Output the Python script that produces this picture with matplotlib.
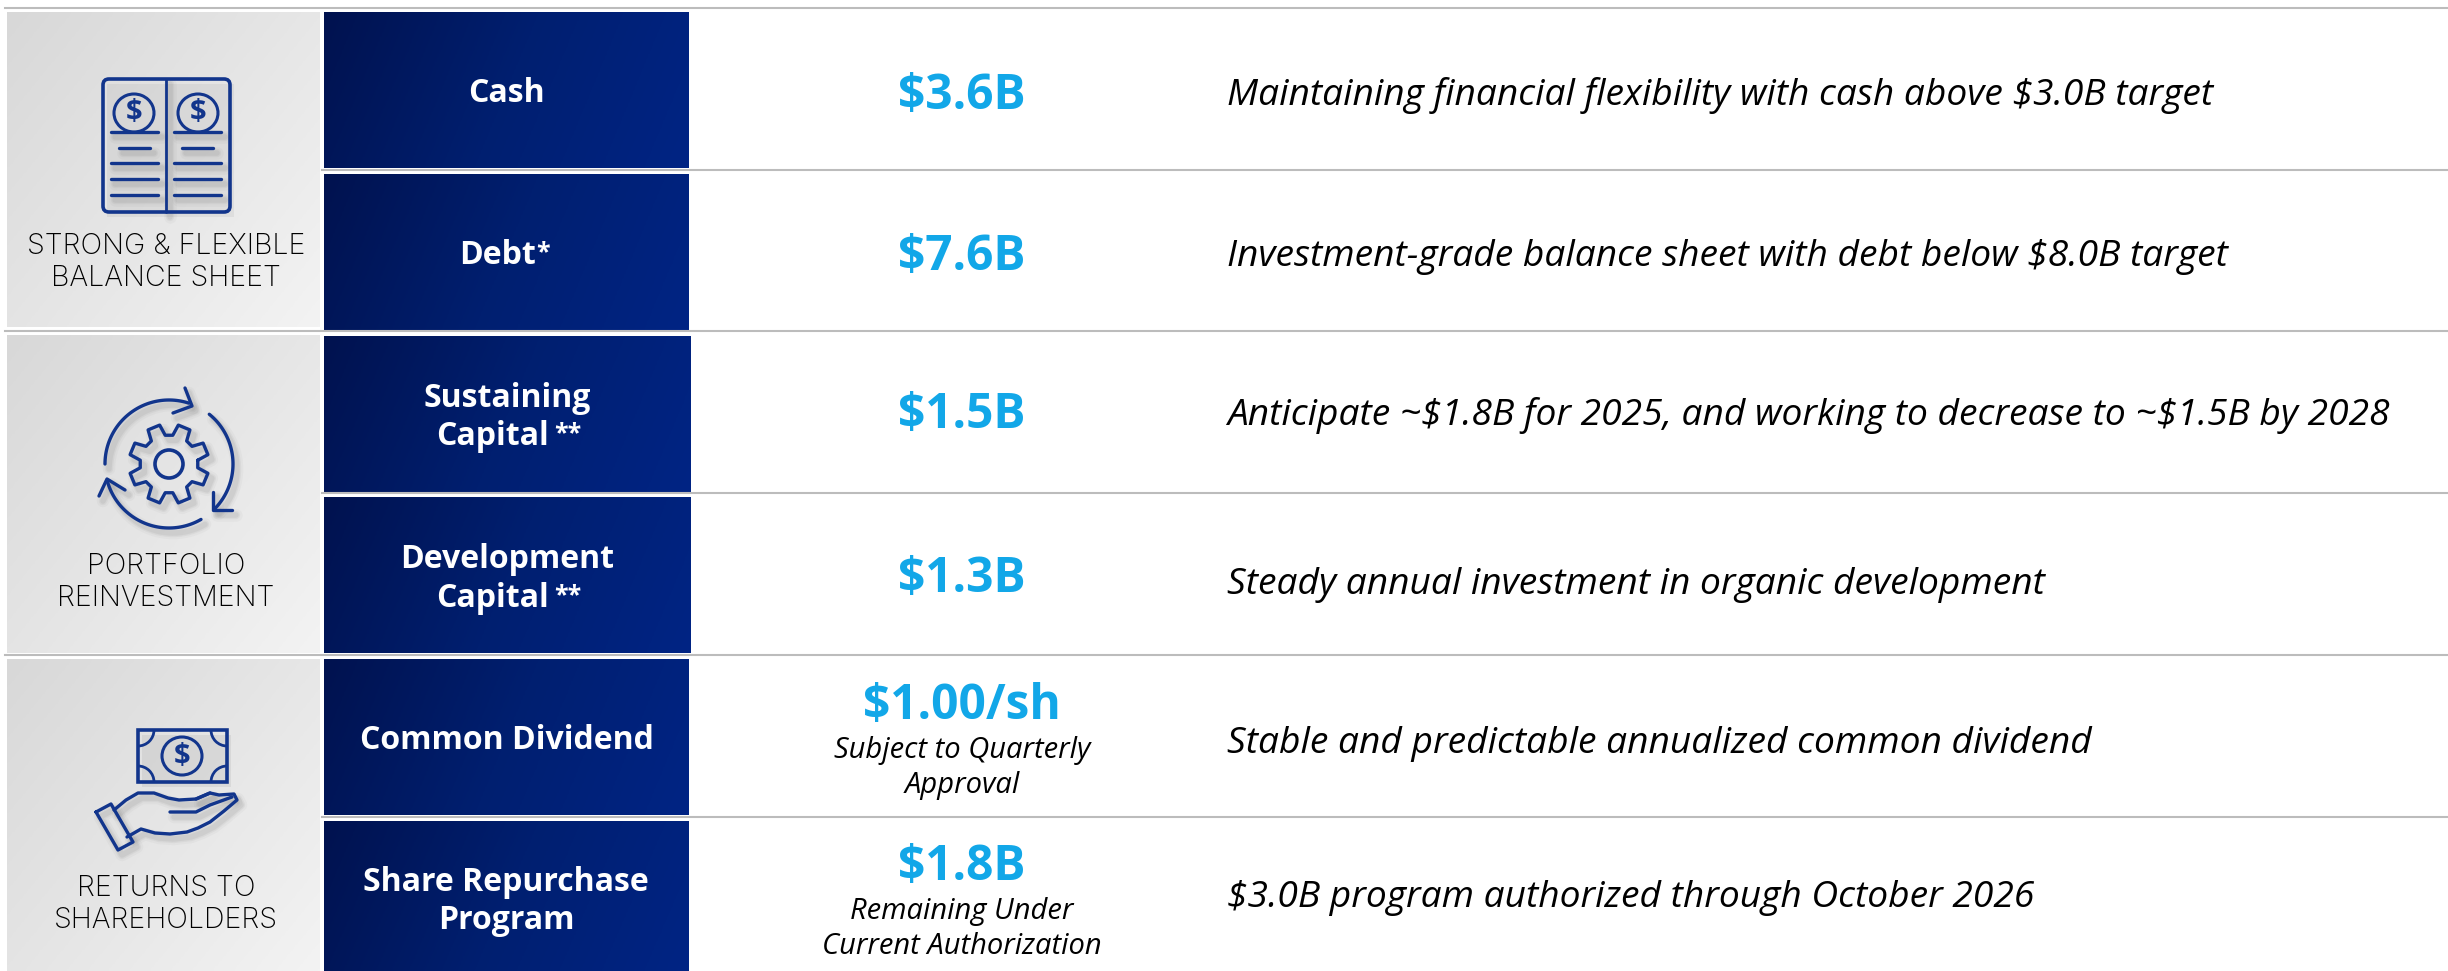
import numpy as np
import matplotlib
matplotlib.use("Agg")
import matplotlib.pyplot as plt
from matplotlib.colors import LinearSegmentedColormap
from matplotlib.patches import Arc, Circle, Ellipse, FancyBboxPatch, Rectangle

pillars = [["STRONG & FLEXIBLE", "BALANCE SHEET"], ["PORTFOLIO", "REINVESTMENT"], ["RETURNS TO", "SHAREHOLDERS"]]
metrics = [["Cash"], ["Debt"], ["Sustaining", "Capital"], ["Development", "Capital"],
           ["Common Dividend"], ["Share Repurchase", "Program"]]
metric_marks = ["", "*", "**", "**", "", ""]
values = ["$3.6B", "$7.6B", "$1.5B", "$1.3B", "$1.00/sh", "$1.8B"]
value_notes = [[], [], [], [], ["Subject to Quarterly", "Approval"], ["Remaining Under", "Current Authorization"]]
comments = ["Maintaining financial flexibility with cash above $3.0B target",
            "Investment-grade balance sheet with debt below $8.0B target",
            "Anticipate ~$1.8B for 2025, and working to decrease to ~$1.5B by 2028",
            "Steady annual investment in organic development",
            "Stable and predictable annualized common dividend",
            "$3.0B program authorized through October 2026"]

# layout in picture pixels
panel_y = [(12, 327), (335, 653), (659, 971)]
row_y = [(12, 168), (174, 330), (336, 492), (497, 653), (659, 815), (821, 971)]
row_right = [689, 689, 691, 691, 689, 689]
metric_base = [[102], [264], [407, 445], [568, 607], [749], [891, 929]]
metric_x = [[506], [498], [507, 493], [507, 493], [507], [506, 506]]
mark_x = [0, 543, 568, 568, 0, 0]
value_base = [109, 270, 428, 592, 719, 880]
note_base = [[], [], [], [], [758, 793], [919, 954]]
comment_base = [105, 266, 425, 594, 753, 907]
pillar_base = [[254, 286], [574, 606], [896, 928]]
lines = [(5, 8), (322, 170), (5, 331), (322, 493), (5, 655), (322, 817)]

navy = LinearSegmentedColormap.from_list("navy", ["#01124f", "#001f70", "#002484"])
gray = LinearSegmentedColormap.from_list("gray", ["#d8d8d8", "#f3f3f3"])
ICON = "#12358c"

plt.rcParams["font.family"] = ["Open Sans", "DejaVu Sans"]
fig = plt.figure(figsize=(24.48, 9.71), dpi=100)
ax = fig.add_axes([0, 0, 1, 1])


def gradient(x0, x1, y0, y1, cmap, wx, wy):
    xx, yy = np.meshgrid(np.linspace(0, 1, 200), np.linspace(0, 1, 100))
    ax.imshow(np.clip(xx * wx + yy * wy, 0, 1), extent=(x0, x1, y1, y0), cmap=cmap, vmin=0, vmax=1,
              aspect="auto", interpolation="bilinear", zorder=1)


def stroke(xs, ys, lw=2.4):
    # soft shadow first, then the blue line
    for w, a in [(9, 0.04), (6, 0.06), (4, 0.08)]:
        ax.plot(np.array(xs) + 4, np.array(ys) + 5, color="#555555", lw=w, alpha=a, solid_capstyle="round", zorder=2)
    ax.plot(xs, ys, color=ICON, lw=lw, solid_capstyle="round", solid_joinstyle="round", zorder=3)


def arc(cx, cy, r, a0, a1, lw=2.4):
    t = np.radians(np.linspace(a0, a1, 60))
    stroke(cx + r * np.cos(t), cy - r * np.sin(t), lw)


def dollar(x, y, size=21):
    ax.text(x, y, "$", color=ICON, fontsize=size, fontweight="bold", ha="center", va="center", zorder=4, parse_math=False)


for (y0, y1) in panel_y:
    gradient(7, 320, y0, y1, gray, 0.55, 0.45)
for (y0, y1), r in zip(row_y, row_right):
    gradient(324, r, y0, y1, navy, 0.85, 0.15)
for x0, y in lines:
    ax.plot([x0, 2448], [y, y], color="#bcbcbc", lw=1.5, zorder=5)

for label, bases in zip(pillars, pillar_base):
    for s, b in zip(label, bases):
        ax.text(166, b, s, color="black", fontsize=20.6, fontfamily="Inter", fontweight="light", ha="center", va="baseline", zorder=6)
for label, bases, xs, mark, mx in zip(metrics, metric_base, metric_x, metric_marks, mark_x):
    for s, b, x in zip(label, bases, xs):
        ax.text(x, b, s, color="white", fontsize=23, fontweight="bold", ha="center", va="baseline", zorder=6)
    if mark:
        ax.text(mx, bases[-1] - 5, mark, color="white", fontsize=18, fontweight="bold", ha="center", va="baseline", zorder=6)
for v, b in zip(values, value_base):
    ax.text(962, b, v, color="#12a7e8", fontsize=34.5, fontweight="bold", ha="center", va="baseline", zorder=6, parse_math=False)
for note, bases in zip(value_notes, note_base):
    for s, b in zip(note, bases):
        ax.text(962, b, s, color="black", fontsize=21, fontstyle="italic", ha="center", va="baseline", zorder=6)
for c, b in zip(comments, comment_base):
    ax.text(1227, b, c, color="black", fontsize=26.7, fontstyle="italic", ha="left", va="baseline", zorder=6, parse_math=False)

# balance sheet icon
ax.add_patch(Rectangle((107, 84), 127, 133, fc="#777777", ec="none", alpha=0.10, zorder=2))
ax.add_patch(FancyBboxPatch((106, 82), 121, 127, boxstyle="round,pad=3,rounding_size=6", fc="none", ec=ICON, lw=2.6, zorder=3))
stroke([166, 166], [79, 212], 2.0)
for cx, lx in [(134, 111), (198, 174)]:
    ax.add_patch(Arc((cx, 113), 40, 38, theta1=0, theta2=360, ec=ICON, lw=2.2, zorder=3))
    dollar(cx, 113)
    stroke([lx, lx + 47], [132, 132])
    stroke([lx + 8, lx + 39], [148, 148])
    for y in [163, 179, 195]:
        stroke([lx, lx + 47], [y, y])

# gear icon
cx, cy = 169, 464
ang = np.radians(np.arange(0, 360, 45) + 22.5)
gx, gy = [], []
for a in ang:
    for r, d in [(29, -15), (40, -9), (40, 9), (29, 15)]:
        gx.append(cx + r * np.cos(a + np.radians(d)))
        gy.append(cy - r * np.sin(a + np.radians(d)))
stroke(gx + gx[:1], gy + gy[:1])
ax.add_patch(Circle((cx, cy), 14, fc="none", ec=ICON, lw=2.6, zorder=3))
arc(cx, cy, 64, 180, 72)
arc(cx, cy, 64, 51, -44)
arc(cx, cy, 64, -60, -165)
stroke([185, 192, 173], [388, 406, 413])
stroke([213, 213, 232], [492, 510, 510])
stroke([99, 107, 125], [496, 479, 490])

# hand and banknote icon
ax.add_patch(Rectangle((142, 735), 89, 52, fc="#777777", ec="none", alpha=0.12, zorder=2))
ax.add_patch(Rectangle((138, 730), 89, 52, fc="none", ec=ICON, lw=2.6, zorder=3))
ax.add_patch(Ellipse((182, 756), 40, 38, fc="none", ec=ICON, lw=2.2, zorder=3))
dollar(182, 756)
# y axis runs downward, so the quadrant angles are mirrored
for x, y, a0 in [(138, 730, 0), (227, 730, 90), (138, 782, 270), (227, 782, 180)]:
    ax.add_patch(Arc((x, y), 32, 32, theta1=a0, theta2=a0 + 90, ec=ICON, lw=2.0, zorder=3))
stroke([96, 111, 133, 118, 96], [812, 804, 842, 850, 812])
stroke([114, 126, 138, 154, 168, 179, 196, 210, 219, 234, 237, 224, 210, 198, 187, 170, 155, 141, 127],
       [810, 800, 793, 793, 798, 800, 799, 793, 795, 794, 800, 811, 822, 828, 832, 834, 833, 829, 837])
stroke([170, 196, 210, 232], [812, 812, 805, 797])
stroke([196, 210], [799, 793])

ax.set_xlim(0, 2448)
ax.set_ylim(971, 0)
ax.axis("off")
fig.savefig("out.png", dpi=100, facecolor="white")
